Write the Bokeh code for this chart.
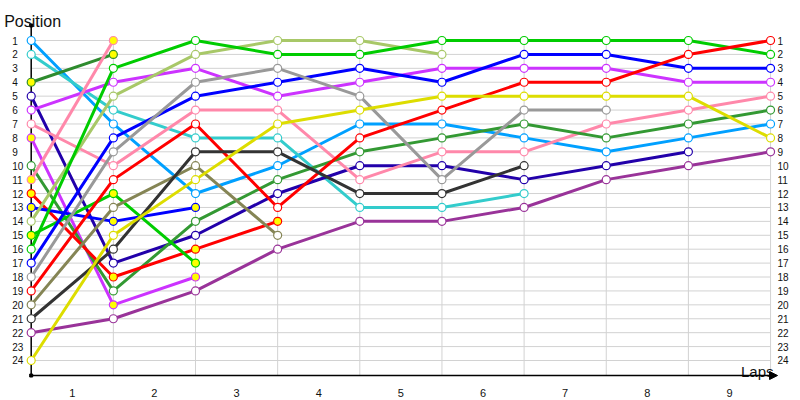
from bokeh.plotting import figure
from bokeh.models import Range1d, Arrow, NormalHead
from bokeh.core.properties import value
from bokeh.embed import file_html
from bokeh.resources import INLINE

# ---------------- data ----------------
laps = [0, 1, 2, 3, 4, 5, 6, 7, 8, 9]          # lap 0 = starting grid
lap_labels = ["1", "2", "3", "4", "5", "6", "7", "8", "9"]
positions = list(range(1, 25))
position_labels = [str(v) for v in positions]
x_title = "Laps"
y_title = "Position"

# position of each car at every lap (lists end when the car retires)
light_blue  = [1, 7, 12, 10, 7, 7, 8, 9, 8, 7]
turquoise   = [2, 6, 8, 8, 13, 13, 12]
dark_green  = [4, 2]
navy        = [5, 17, 15, 12, 10, 10, 11, 10, 9]
violet      = [6, 4, 3, 5, 4, 3, 3, 3, 4, 4]
pink        = [7, 10, 6, 6, 11, 9, 9, 7, 6, 5]
violet_b    = [8, 20, 18]
forest      = [10, 19, 14, 11, 9, 8, 7, 8, 7, 6]
pink_b      = [11, 1]
red_b       = [12, 18, 16, 14]
blue_b      = [13, 14, 13]
light_olive = [14, 5, 2, 1, 1, 2]
green_b     = [15, 12, 17]
green       = [16, 3, 1, 2, 2, 1, 1, 1, 1, 2]
blue        = [17, 8, 5, 4, 3, 4, 2, 2, 3, 3]
gray        = [18, 9, 4, 3, 5, 11, 6, 6]
red         = [19, 11, 7, 13, 8, 6, 4, 4, 2, 1]
olive       = [20, 13, 10, 15]
dark_gray   = [21, 16, 9, 9, 12, 12, 10]
purple      = [22, 21, 19, 16, 14, 14, 13, 11, 10, 9]
yellow      = [24, 15, 11, 7, 6, 5, 5, 5, 5, 8]

# (series, colour, highlighted markers)
cars = [
    (light_blue, "#00a0ff", False),
    (turquoise, "#33cccc", False),
    (dark_green, "#2e8b2e", True),
    (navy, "#2200aa", False),
    (violet, "#cc33ff", False),
    (pink, "#ff88aa", False),
    (violet_b, "#cc33ff", True),
    (forest, "#339933", False),
    (pink_b, "#ff88aa", True),
    (red_b, "#ff0000", True),
    (blue_b, "#0000ff", True),
    (light_olive, "#a8c868", False),
    (green_b, "#00cc00", True),
    (green, "#00cc00", False),
    (blue, "#0000ff", False),
    (gray, "#999999", False),
    (red, "#ff0000", False),
    (olive, "#858555", False),
    (dark_gray, "#333333", False),
    (purple, "#993399", False),
    (yellow, "#dddd00", False),
]

# ---------------- layout ----------------
W, H = 800, 400
PX_LAP = 82.15
PX_POS = 13.913
LAP0_X = 30.7     # px from figure left to lap 0
POS1_Y = 40.0     # px from figure top to position 1
x_start = -LAP0_X / PX_LAP
x_end = (W - LAP0_X) / PX_LAP
y_top = 1 - POS1_Y / PX_POS
y_bot = 1 + (H - POS1_Y) / PX_POS
AX_TOP = -0.08
AX_BOT = 25.08
AX_RIGHT = 9.085

FONT = value("Liberation Sans")

p = figure(width=W, height=H,
           x_range=Range1d(x_start, x_end), y_range=Range1d(y_bot, y_top),
           x_axis_location=None, y_axis_location=None,
           output_backend="svg", toolbar_location=None,
           min_border=0, outline_line_color=None,
           background_fill_color="white", border_fill_color="white")
p.grid.visible = False

last_lap = laps[-1]
first_pos = positions[0]

# grid lines
p.segment(x0=[laps[0]] * len(positions), y0=positions,
          x1=[last_lap] * len(positions), y1=positions,
          line_color="#d2d2d2", line_width=1)
p.segment(x0=laps[1:], y0=[first_pos] * (len(laps) - 1),
          x1=laps[1:], y1=[AX_BOT] * (len(laps) - 1),
          line_color="#d2d2d2", line_width=1)

# y axis line
p.segment(x0=[laps[0]], y0=[AX_TOP], x1=[laps[0]], y1=[AX_BOT],
          line_color="black", line_width=1.5)
p.scatter([laps[0], laps[0]], [AX_TOP, AX_BOT], marker="square", size=3,
          color="black")

# x axis line with arrow
p.add_layout(Arrow(end=NormalHead(size=8, fill_color="black", line_color="black",
                                  line_width=1),
                   x_start=laps[0], y_start=AX_BOT, x_end=AX_RIGHT, y_end=AX_BOT,
                   line_color="black", line_width=1.5))

# car lines
for vals, color, hl in cars:
    p.line(laps[:len(vals)], vals, line_color=color, line_width=3,
           line_join="round")
# markers
for vals, color, hl in cars:
    p.scatter(laps[:len(vals)], vals, marker="circle", size=8,
              fill_color="#ffff00" if hl else "white",
              line_color=color, line_width=1.2)

# tick labels
p.text(x=[laps[0]] * len(positions), y=positions, text=position_labels,
       x_offset=-19, text_align="left", text_baseline="middle",
       text_font=FONT, text_font_size="10px", text_color="#111111")
p.text(x=[last_lap] * len(positions), y=positions, text=position_labels,
       x_offset=7, text_align="left", text_baseline="middle",
       text_font=FONT, text_font_size="10px", text_color="#111111")
p.text(x=[l + 0.5 for l in laps[:-1]], y=[AX_BOT] * len(lap_labels), text=lap_labels,
       y_offset=17, text_align="center", text_baseline="alphabetic",
       text_font=FONT, text_font_size="11px", text_color="#111111")

# axis titles
p.text(x=[laps[0]], y=[AX_TOP], text=[y_title], x_offset=-27, y_offset=-4,
       text_align="left", text_baseline="alphabetic",
       text_font=FONT, text_font_size="16px", text_color="#111111")
p.text(x=[last_lap], y=[AX_BOT], text=[x_title], x_offset=3, y_offset=-4,
       text_align="right", text_baseline="alphabetic",
       text_font=FONT, text_font_size="15px", text_color="#111111")

open("out.html", "w").write(file_html(p, INLINE))
